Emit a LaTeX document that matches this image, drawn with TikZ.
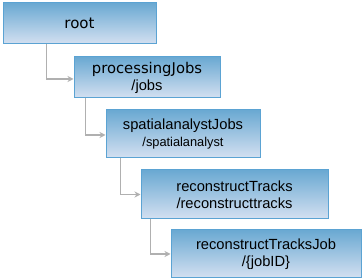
\documentclass[tikz,border=0pt]{standalone}
\usepackage{fontspec}
\setmainfont{Liberation Sans}
\newfontfamily\dvfont{DejaVu Sans}
\usetikzlibrary{arrows.meta}
\definecolor{boxtop}{HTML}{6AA9D2}
\definecolor{boxbot}{HTML}{D4E0F1}
\definecolor{boxline}{HTML}{5BA3D3}
\definecolor{linkgray}{HTML}{B0B0B0}
\tikzset{
  resbox/.style={draw=boxline, line width=1pt, top color=boxtop, bottom color=boxbot,
    inner sep=0pt, align=center, font=\fontsize{14.7}{17}\selectfont},
  link/.style={draw=linkgray, line width=1.6pt, -{Stealth[length=6pt,width=6pt]}}
}
\begin{document}
\begin{tikzpicture}[x=1pt,y=-1pt]
    \useasboundingbox[fill=white] (0,0) rectangle (362,280);

    % resource boxes
    \node[resbox, minimum width=153pt, minimum height=41pt] (root) at (79.5,23.5)
        {\dvfont\fontsize{15}{17}\selectfont root};
    \node[resbox, minimum width=146pt, minimum height=41pt] (proc) at (147,77.5)
        {\dvfont\fontsize{14.8}{18}\selectfont processingJobs\\/jobs};
    \node[resbox, minimum width=154pt, minimum height=48pt] (spatial) at (183,134)
        {spatialanalystJobs\\{\fontsize{12.8}{14}\selectfont /spatialanalyst}};
    \node[resbox, minimum width=187pt, minimum height=49pt] (recon) at (234.5,194.5)
        {reconstructTracks\\/reconstructtracks};
    \node[resbox, minimum width=190pt, minimum height=48pt] (job) at (266,254)
        {reconstructTracksJob\\/\{jobID\}};

    % links
    \draw[link] ([xshift=44pt]root.south west) |- ([yshift=-1.5pt]proc.west);
    \draw[link] ([xshift=12pt]proc.south west) |- ([yshift=-1pt]spatial.west);
    \draw[link] ([xshift=15pt]spatial.south west) |- (recon.west);
    \draw[link] ([xshift=10pt]recon.south west) |- (job.west);
\end{tikzpicture}
\end{document}
